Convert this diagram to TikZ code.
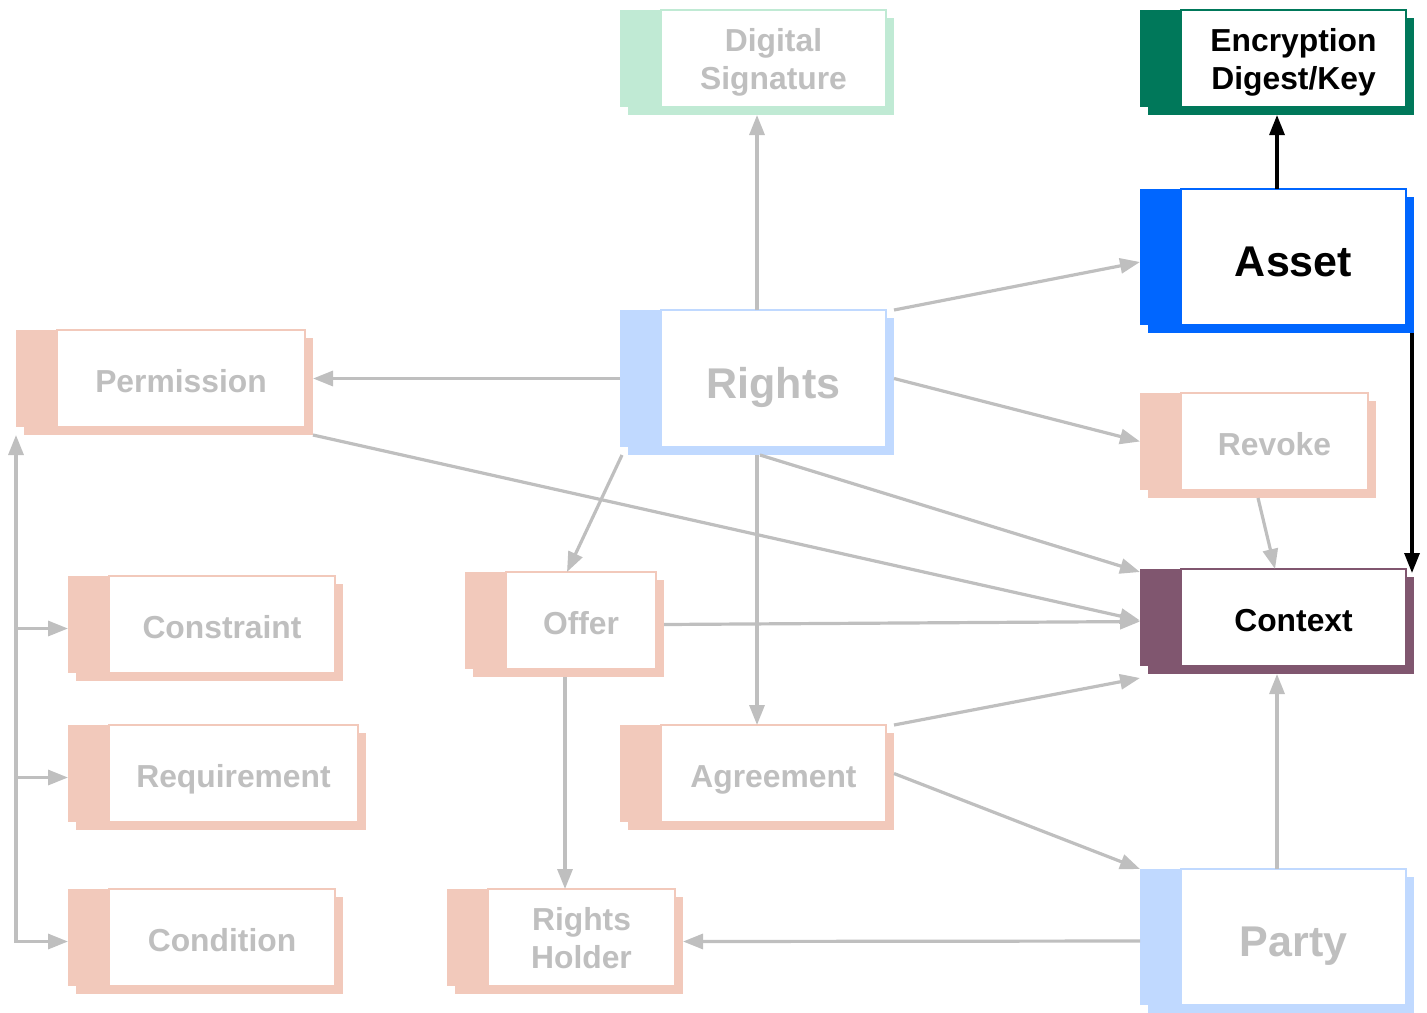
\documentclass[tikz,border=0pt]{standalone}
\usepackage{fontspec}
\setmainfont{Liberation Sans}
\usetikzlibrary{arrows.meta,backgrounds}

\definecolor{faded}{HTML}{BFBFBF}
\definecolor{salmon}{HTML}{F2C9BB}
\definecolor{paleblue}{HTML}{C0D9FF}
\definecolor{palegreen}{HTML}{C0EAD4}
\definecolor{deepgreen}{HTML}{00785A}
\definecolor{brightblue}{HTML}{0066FF}
\definecolor{plum}{HTML}{80566F}

\tikzset{
  box/.style={draw=#1, fill=white, line width=1pt, inner sep=0pt, outer sep=0pt,
    minimum width=112.5pt, minimum height=48.5pt, align=center, text=faded,
    text height=13.6pt, text depth=0pt, font=\bfseries\fontsize{15.9}{19}\selectfont},
  twoline/.style={text height=},
  bigbox/.style={minimum height=68pt, text height=19.7pt, font=\bfseries\fontsize{21.5}{26}\selectfont},
  conn/.style={draw=faded, line width=1.6pt, -{Triangle[length=10pt,width=7.5pt]}},
  keyconn/.style={conn, draw=black}
}

\begin{document}
\begin{tikzpicture}[x=0.5pt,y=-0.5pt]
\useasboundingbox (0,0) rectangle (1427,1012);

% white parts of the boxes
\node[box=palegreen, twoline] (dsig) at (773.5,58.5) {Digital\\Signature};
\node[box=deepgreen, twoline, text=black] (enc) at (1293.5,58.5) {Encryption\\Digest/Key};
\node[box=brightblue, bigbox, text=black] (asset) at (1293.5,257) {Asset};
\node[box=salmon, minimum width=124pt] (perm) at (181,378.5) {Permission};
\node[box=paleblue, bigbox, minimum height=68.5pt] (rights) at (773.5,378.5) {Rights};
\node[box=salmon, minimum width=93.5pt] (revoke) at (1274.5,441.5) {Revoke};
\node[box=plum, text=black] (context) at (1293.5,617.5) {Context};
\node[box=salmon, minimum width=113pt] (cons) at (222,624.5) {Constraint};
\node[box=salmon, minimum width=75pt] (offer) at (581,620.5) {Offer};
\node[box=salmon, minimum width=124.5pt] (req) at (233.5,773.5) {Requirement};
\node[box=salmon] (agree) at (773.5,773.5) {Agreement};
\node[box=salmon, minimum width=113pt] (cond) at (222,937.5) {Condition};
\node[box=salmon, twoline, minimum width=93.5pt] (holder) at (581.5,937.5) {Rights\\Holder};
\node[box=paleblue, bigbox] (party) at (1293.5,937) {Party};

% coloured bar and shadow behind each box
\begin{scope}[on background layer]
\foreach \b/\c in {dsig/palegreen, enc/deepgreen, asset/brightblue, perm/salmon,
    rights/paleblue, revoke/salmon, context/plum, cons/salmon, offer/salmon,
    req/salmon, agree/salmon, cond/salmon, holder/salmon, party/paleblue}{
  \fill[\c] ([shift={(-16.5pt,-4pt)}]\b.north west) rectangle ([shift={(4pt,-4pt)}]\b.south east);
  \fill[\c] ([xshift=-20.5pt]\b.north west) rectangle (\b.south east);
}
\end{scope}

% links out of Rights
\draw[conn] ([xshift=-8.25pt]rights.north) -- ([shift={(-8.25pt,-4pt)}]dsig.south);
\draw[conn] ([xshift=4pt]rights.north east) -- ([shift={(-20.5pt,-2.5pt)}]asset.west);
\draw[conn] ([xshift=-20.5pt]rights.west) -- ([xshift=4pt]perm.east);
\draw[conn] ([xshift=4pt]rights.east) -- ([xshift=-20.5pt]revoke.west);
\draw[conn] ([shift={(-6.75pt,-4pt)}]rights.south) -- ([shift={(-20.5pt,-1.5pt)}]context.north west);
\draw[conn] ([shift={(-8.25pt,-4pt)}]rights.south) -- ([xshift=-8.25pt]agree.north);
\draw[conn] ([shift={(-19.5pt,-4pt)}]rights.south west) -- ([xshift=-7pt]offer.north);

% links into Context
\draw[conn] ([shift={(4pt,-4pt)}]perm.south east) -- ([shift={(-20.5pt,-1.5pt)}]context.west);
\draw[conn] ([shift={(-8.25pt,-4pt)}]revoke.south) -- ([xshift=-9.25pt]context.north);
\draw[conn] ([shift={(4pt,-2pt)}]offer.east) -- ([shift={(-20.5pt,-2pt)}]context.west);
\draw[conn] ([xshift=4pt]agree.north east) -- ([shift={(-20.5pt,-6pt)}]context.south west);
\draw[conn] ([xshift=-8.25pt]party.north) -- ([shift={(-8.25pt,-4pt)}]context.south);

% other links
\draw[conn] ([shift={(-8pt,-4pt)}]offer.south) -- ([xshift=-8.25pt]holder.north);
\draw[conn] ([xshift=4pt]agree.east) -- ([xshift=-20.5pt]party.north west);
\draw[conn] ([shift={(-20.5pt,-2pt)}]party.west) -- ([shift={(4pt,-2pt)}]holder.east);

% black links of Asset
\draw[keyconn] ([xshift=-8.25pt]asset.north) -- ([shift={(-8.25pt,-4pt)}]enc.south);
\draw[keyconn] ([shift={(3pt,-4pt)}]asset.south east) -- ([shift={(3pt,-2pt)}]context.north east);

% bus on the left
\coordinate (bus) at ([shift={(-20.5pt,-4pt)}]perm.south west);
\draw[conn, {Triangle[length=10pt,width=7.5pt]}-{Triangle[length=10pt,width=7.5pt]}]
  (bus) |- ([shift={(-20.5pt,-2pt)}]cond.west);
\draw[conn] ([yshift=-2pt]bus |- cons.west) -- ([shift={(-20.5pt,-2pt)}]cons.west);
\draw[conn] ([yshift=-2pt]bus |- req.west) -- ([shift={(-20.5pt,-2pt)}]req.west);

\end{tikzpicture}
\end{document}
